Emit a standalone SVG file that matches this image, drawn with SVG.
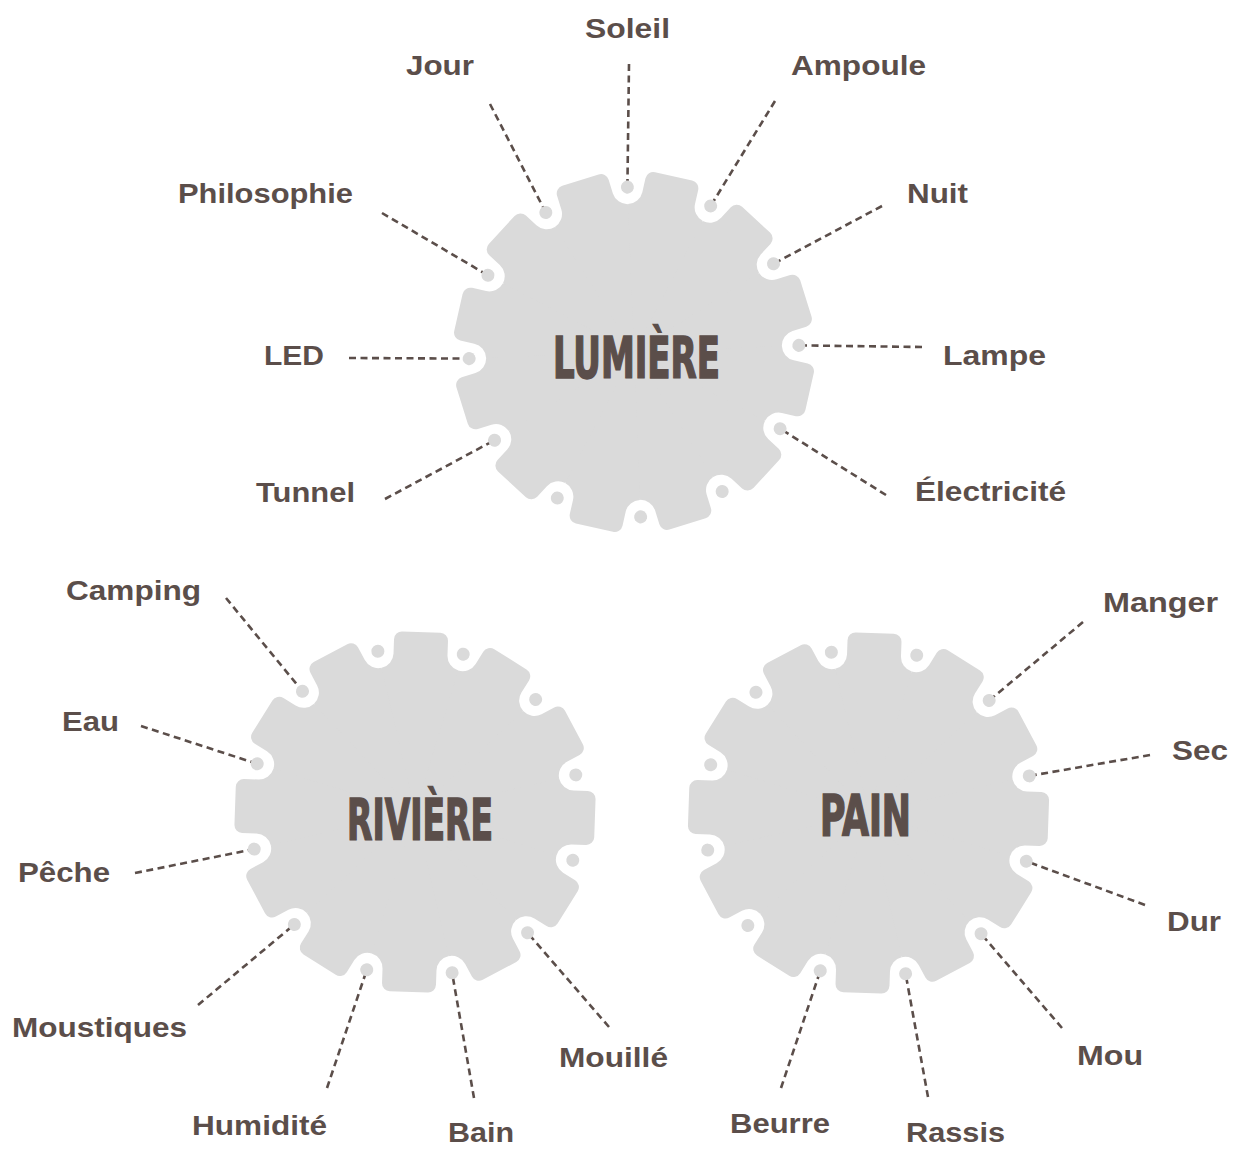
<svg xmlns="http://www.w3.org/2000/svg" xmlns:xlink="http://www.w3.org/1999/xlink" width="1237" height="1149" viewBox="0 0 1237 1149">
<style>
.gear{fill:#dadada}
.lbl{font-family:"Liberation Sans",Arial,sans-serif;font-weight:bold;font-size:28px;fill:#5b4e4a}
.title{font-family:"Liberation Sans Narrow","DejaVu Sans Condensed","Liberation Sans",sans-serif;font-weight:bold;font-size:57px;fill:#5b4e4a;stroke:#5b4e4a;stroke-width:1.6;stroke-linejoin:miter}
.conn line{stroke:#5b4e4a;stroke-width:2.6;stroke-dasharray:7 4.5;fill:none}
</style>
<defs>
<g id="sector">
<path class="gear" d="M0 0 L-38.30 -142.96 A15.25 15.25 0 0 0 -27 -157.69 L-27 -172 A8 8 0 0 1 -19 -180 L19 -180 A8 8 0 0 1 27 -172 L27 -157.69 A15.25 15.25 0 0 0 38.30 -142.96 Z"/>
<circle class="gear" cx="-42.71" cy="-159.38" r="6.5"/>
</g>
<g id="gear">
<circle class="gear" r="147"/>
<use xlink:href="#sector"/>
<use xlink:href="#sector" transform="rotate(30)"/>
<use xlink:href="#sector" transform="rotate(60)"/>
<use xlink:href="#sector" transform="rotate(90)"/>
<use xlink:href="#sector" transform="rotate(120)"/>
<use xlink:href="#sector" transform="rotate(150)"/>
<use xlink:href="#sector" transform="rotate(180)"/>
<use xlink:href="#sector" transform="rotate(210)"/>
<use xlink:href="#sector" transform="rotate(240)"/>
<use xlink:href="#sector" transform="rotate(270)"/>
<use xlink:href="#sector" transform="rotate(300)"/>
<use xlink:href="#sector" transform="rotate(330)"/>
</g>
</defs>
<rect width="1237" height="1149" fill="#ffffff"/>
<g id="connectors" class="conn">
<line x1="629" y1="64" x2="627.4" y2="187.1"/>
<line x1="490" y1="104" x2="545.8" y2="212.5"/>
<line x1="775" y1="101" x2="710.7" y2="205.9"/>
<line x1="382" y1="213" x2="487.9" y2="275.3"/>
<line x1="882" y1="206" x2="773.5" y2="263.8"/>
<line x1="349" y1="358" x2="469.1" y2="358.6"/>
<line x1="922" y1="347" x2="798.9" y2="345.4"/>
<line x1="385" y1="499" x2="494.5" y2="440.2"/>
<line x1="886" y1="495" x2="780.1" y2="428.7"/>
<line x1="226" y1="598" x2="302.5" y2="691.3"/>
<line x1="141" y1="726" x2="257.2" y2="763.8"/>
<line x1="135" y1="873" x2="254.2" y2="849.1"/>
<line x1="198" y1="1005" x2="294.3" y2="924.5"/>
<line x1="327" y1="1088" x2="366.8" y2="969.8"/>
<line x1="474" y1="1098" x2="452.1" y2="972.8"/>
<line x1="609" y1="1027" x2="527.5" y2="932.7"/>
<line x1="1083" y1="622" x2="989.2" y2="700.5"/>
<line x1="1150" y1="755" x2="1029.3" y2="775.9"/>
<line x1="1145" y1="905" x2="1026.3" y2="861.2"/>
<line x1="1062" y1="1028" x2="981" y2="933.7"/>
<line x1="928" y1="1097" x2="905.6" y2="973.8"/>
<line x1="781" y1="1088" x2="820.3" y2="970.8"/>
</g>
<g id="lumiere">
<use xlink:href="#gear" transform="translate(634 352) rotate(12.7)"/>
<text class="title" x="553" y="378" textLength="167" lengthAdjust="spacingAndGlyphs">LUMIÈRE</text>
</g>
<g id="riviere">
<use xlink:href="#gear" transform="translate(415 812) rotate(2)"/>
<text class="title" x="347" y="840" textLength="146" lengthAdjust="spacingAndGlyphs">RIVIÈRE</text>
</g>
<g id="pain">
<use xlink:href="#gear" transform="translate(868.5 813) rotate(2)"/>
<text class="title" x="820" y="836" textLength="91" lengthAdjust="spacingAndGlyphs">PAIN</text>
</g>
<g id="labels">
<text class="lbl" x="585" y="38" textLength="85" lengthAdjust="spacingAndGlyphs">Soleil</text>
<text class="lbl" x="406" y="75" textLength="68" lengthAdjust="spacingAndGlyphs">Jour</text>
<text class="lbl" x="791" y="75" textLength="135" lengthAdjust="spacingAndGlyphs">Ampoule</text>
<text class="lbl" x="178" y="203" textLength="175" lengthAdjust="spacingAndGlyphs">Philosophie</text>
<text class="lbl" x="907" y="203" textLength="61" lengthAdjust="spacingAndGlyphs">Nuit</text>
<text class="lbl" x="264" y="365" textLength="60" lengthAdjust="spacingAndGlyphs">LED</text>
<text class="lbl" x="943" y="365" textLength="103" lengthAdjust="spacingAndGlyphs">Lampe</text>
<text class="lbl" x="256" y="502" textLength="99" lengthAdjust="spacingAndGlyphs">Tunnel</text>
<text class="lbl" x="915" y="501" textLength="151" lengthAdjust="spacingAndGlyphs">Électricité</text>
<text class="lbl" x="66" y="600" textLength="135" lengthAdjust="spacingAndGlyphs">Camping</text>
<text class="lbl" x="1103" y="612" textLength="115" lengthAdjust="spacingAndGlyphs">Manger</text>
<text class="lbl" x="62" y="731" textLength="57" lengthAdjust="spacingAndGlyphs">Eau</text>
<text class="lbl" x="1172" y="760" textLength="56" lengthAdjust="spacingAndGlyphs">Sec</text>
<text class="lbl" x="18" y="882" textLength="92" lengthAdjust="spacingAndGlyphs">Pêche</text>
<text class="lbl" x="1167" y="931" textLength="54" lengthAdjust="spacingAndGlyphs">Dur</text>
<text class="lbl" x="12" y="1037" textLength="175" lengthAdjust="spacingAndGlyphs">Moustiques</text>
<text class="lbl" x="559" y="1067" textLength="109" lengthAdjust="spacingAndGlyphs">Mouillé</text>
<text class="lbl" x="1077" y="1065" textLength="66" lengthAdjust="spacingAndGlyphs">Mou</text>
<text class="lbl" x="192" y="1135" textLength="135" lengthAdjust="spacingAndGlyphs">Humidité</text>
<text class="lbl" x="448" y="1142" textLength="66" lengthAdjust="spacingAndGlyphs">Bain</text>
<text class="lbl" x="730" y="1133" textLength="100" lengthAdjust="spacingAndGlyphs">Beurre</text>
<text class="lbl" x="906" y="1142" textLength="99" lengthAdjust="spacingAndGlyphs">Rassis</text>
</g>
</svg>
